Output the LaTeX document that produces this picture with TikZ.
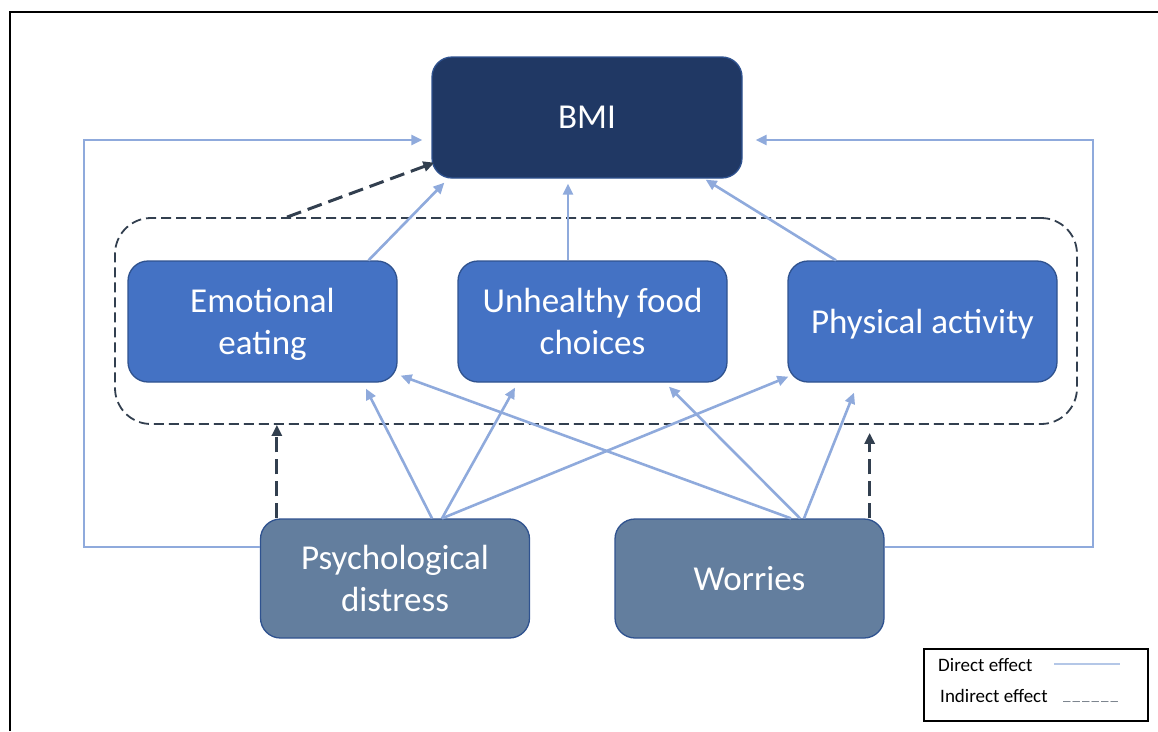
\documentclass[tikz,border=0pt]{standalone}
\usepackage{fontspec}
\setmainfont{Carlito}
\usetikzlibrary{arrows.meta}
\definecolor{navy}{HTML}{203864}
\definecolor{medblue}{HTML}{4472C4}
\definecolor{slate}{HTML}{637E9E}
\definecolor{edge}{HTML}{2F528F}
\definecolor{lightarrow}{HTML}{8FAADC}
\definecolor{legline}{HTML}{B4C7E7}
\definecolor{darkdash}{HTML}{323F4F}
\tikzset{
  box/.style={draw=edge, line width=1.3pt, rounded corners=20pt, text=white,
    font=\fontsize{35}{42}\selectfont, align=center, inner sep=0pt, text depth=0pt},
  direct/.style={draw=lightarrow, line width=2.6pt, -{Triangle[length=11pt,width=10pt]}},
  indirect/.style={draw=darkdash, line width=3pt, dash pattern=on 15pt off 7pt,
    -{Triangle[length=11pt,width=10pt]}},
  legtext/.style={font=\fontsize{19}{22}\selectfont, anchor=west, inner sep=0pt}
}
\begin{document}
\begin{tikzpicture}[x=1pt,y=-1pt]
\useasboundingbox (0,0) rectangle (1158,731);
% outer frame
\coordinate (f1) at (10,731);
\coordinate (f2) at (10,12);
\coordinate (f3) at (1158,12);
\draw[line width=2pt, line join=miter] (f1) -- (f2) -- (f3);

% group (dashed)
\node[draw=darkdash, line width=1.8pt, dash pattern=on 10pt off 5pt, rounded corners=36pt,
  minimum width=962pt, minimum height=206pt, inner sep=0pt] (grp) at (596,321) {};

% nodes
\node[box, fill=navy, minimum width=310pt, minimum height=121pt] (bmi) at (587,117.5) {BMI};
\node[box, fill=medblue, minimum width=269pt, minimum height=121pt] (emo) at (262.5,321.5) {Emotional\\eating};
\node[box, fill=medblue, minimum width=269pt, minimum height=121pt] (unh) at (592.5,321.5) {Unhealthy food\\choices};
\node[box, fill=medblue, minimum width=269pt, minimum height=121pt] (phy) at (922.5,321.5) {Physical activity};
\node[box, fill=slate, minimum width=269pt, minimum height=119pt] (psy) at (395,578.5) {Psychological\\distress};
\node[box, fill=slate, minimum width=269pt, minimum height=119pt] (wor) at (749.5,578.5) {Worries};

% mediators -> BMI
\draw[direct] ([xshift=106pt]emo.north) -- ([xshift=13pt,yshift=-4pt]bmi.south west);
\draw[direct] ([xshift=-24.5pt]unh.north) -- ([xshift=-19pt,yshift=-5pt]bmi.south);
\draw[direct] ([xshift=-86.5pt]phy.north) -- ([xshift=-37pt,yshift=-1pt]bmi.south east);
\draw[indirect] ([xshift=-309pt]grp.north) -- ([xshift=3pt,yshift=16pt]bmi.south west);

% predictors -> mediators
\draw[direct] ([xshift=37pt]psy.north) -- ([xshift=103.5pt,yshift=-6pt]emo.south);
\draw[direct] ([xshift=47pt]psy.north) -- ([xshift=-77.5pt,yshift=-5pt]unh.south);
\draw[direct] ([xshift=47pt]psy.north) -- ([xshift=1pt,yshift=6pt]phy.south west);
\draw[direct] ([xshift=41.5pt]wor.north) -- ([xshift=3pt,yshift=7pt]emo.south east);
\draw[direct] ([xshift=50.5pt]wor.north) -- ([xshift=76.5pt,yshift=-4pt]unh.south);
\draw[direct] ([xshift=54.5pt]wor.north) -- ([xshift=-68.5pt,yshift=-10pt]phy.south);

% indirect vertical arrows
\coordinate (p1) at ([xshift=17pt]psy.north west);
\coordinate (w1) at ([xshift=-15pt]wor.north east);
\draw[indirect] (p1) -- (p1 |- grp.south);
\draw[indirect, shorten >=8pt] (w1) -- (w1 |- grp.south);

% direct loops to BMI
\coordinate (lc) at (84,140);
\coordinate (rc) at (1093,140);
\draw[direct, shorten >=9pt] ([yshift=31.5pt]psy.west) -| (lc) -- ([yshift=-22.5pt]bmi.west);
\draw[direct, shorten >=13pt] ([yshift=31.5pt]wor.east) -| (rc) -- ([yshift=-22.5pt]bmi.east);

% legend
\node[draw=black, line width=1.5pt, minimum width=224pt, minimum height=72pt, inner sep=0pt] (leg) at (1036,685) {};
\node[legtext] (ld) at (938,665) {Direct effect};
\node[legtext] (li) at (940,696) {Indirect effect};
\coordinate (l1) at (1054,664);
\coordinate (l2) at (1120,664);
\draw[draw=legline, line width=2.2pt] (l1) -- (l2);
\node[legtext, text=darkdash!75, font=\fontsize{15}{18}\selectfont] (lu) at (1063,701)
  {\_\kern2pt\_\kern2pt\_\kern2pt\_\kern2pt\_\kern2pt\_};
\end{tikzpicture}
\end{document}
